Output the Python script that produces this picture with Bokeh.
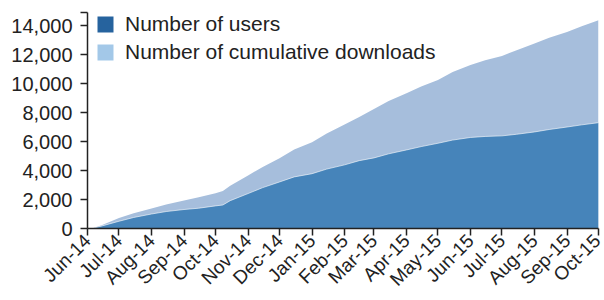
import math
import pandas as pd
from bokeh.plotting import figure
from bokeh.models import (ColumnDataSource, FixedTicker, NumeralTickFormatter,
                          DatetimeTickFormatter, Legend, LegendItem, Range1d)
from bokeh.embed import file_html
from bokeh.resources import INLINE

# ---- data ----
dates = ["2014-06-01", "2014-06-05", "2014-06-15", "2014-07-01", "2014-07-15",
         "2014-08-01", "2014-08-15", "2014-09-01", "2014-09-15", "2014-10-01",
         "2014-10-08", "2014-10-15", "2014-11-01", "2014-11-15", "2014-12-01",
         "2014-12-15", "2015-01-01", "2015-01-15", "2015-02-01", "2015-02-15",
         "2015-03-01", "2015-03-15", "2015-04-01", "2015-04-15", "2015-05-01",
         "2015-05-15", "2015-06-01", "2015-06-15", "2015-07-01", "2015-07-15",
         "2015-08-01", "2015-08-15", "2015-09-01", "2015-09-15", "2015-10-01"]
downloads = [0, 0, 250, 720, 1050,
             1380, 1650, 1930, 2150, 2430,
             2580, 2950, 3650, 4250, 4850,
             5450, 5950, 6550, 7180, 7700,
             8250, 8800, 9330, 9800, 10250,
             10800, 11280, 11600, 11900, 12300,
             12760, 13150, 13560, 13950, 14360]
users = [0, 0, 180, 500, 760,
         1000, 1170, 1310, 1400, 1560,
         1620, 1920, 2410, 2820, 3210,
         3560, 3780, 4100, 4390, 4680,
         4870, 5150, 5420, 5650, 5880,
         6100, 6280, 6350, 6390, 6500,
         6660, 6830, 7000, 7150, 7300]
tick_months = ["2014-06-01", "2014-07-01", "2014-08-01", "2014-09-01", "2014-10-01",
               "2014-11-01", "2014-12-01", "2015-01-01", "2015-02-01", "2015-03-01",
               "2015-04-01", "2015-05-01", "2015-06-01", "2015-07-01", "2015-08-01",
               "2015-09-01", "2015-10-01"]
y_ticks = [0, 2000, 4000, 6000, 8000, 10000, 12000, 14000]
y_max = 14900
series_labels = ["Number of users", "Number of cumulative downloads"]

FONT = "Liberation Sans"
TXT = "#222222"

x = pd.to_datetime(dates)
src = ColumnDataSource(dict(x=x, downloads=downloads, users=users))

p = figure(width=604, height=300, x_axis_type="datetime",
           output_backend="svg", toolbar_location=None,
           x_range=Range1d(pd.Timestamp(tick_months[0]), pd.Timestamp(tick_months[-1])),
           y_range=Range1d(0, y_max),
           min_border_left=87, min_border_right=6, min_border_top=12,
           min_border_bottom=69)
p.outline_line_color = None
p.xgrid.visible = False
p.ygrid.visible = False

p.varea(x="x", y1=0, y2="downloads", source=src, fill_color="#a6bedc")
p.varea(x="x", y1=0, y2="users", source=src, fill_color="#4684ba")
p.line(x="x", y="users", source=src, line_color="white", line_alpha=0.6, line_width=1)

# legend proxies (single degenerate point, draws nothing in the plot)
d1 = p.varea(x=x[:1], y1=[0], y2=[0], fill_color="#26639e")
d2 = p.varea(x=x[:1], y1=[0], y2=[0], fill_color="#a3c8e8")
legend = Legend(items=[LegendItem(label=series_labels[0], renderers=[d1]),
                       LegendItem(label=series_labels[1], renderers=[d2])],
                location=(8, 164), glyph_width=20, glyph_height=20,
                label_height=23, spacing=4, label_standoff=10,
                padding=0, margin=0, border_line_alpha=0,
                background_fill_alpha=0,
                label_text_font=FONT, label_text_font_size="21px",
                label_text_color=TXT)
p.add_layout(legend)

# axes
xt = [pd.Timestamp(m).value / 1e6 for m in tick_months]
p.xaxis.ticker = FixedTicker(ticks=xt)
fmt = "%b-%y"
p.xaxis.formatter = DatetimeTickFormatter(milliseconds=fmt, seconds=fmt, minsec=fmt,
                                          minutes=fmt, hourmin=fmt, hours=fmt,
                                          days=fmt, months=fmt, years=fmt)
p.xaxis.major_label_orientation = math.pi / 4
p.yaxis.ticker = FixedTicker(ticks=y_ticks, minor_ticks=[y_max])
p.yaxis.formatter = NumeralTickFormatter(format="0,0")

for ax in (p.xaxis[0], p.yaxis[0]):
    ax.axis_line_color = TXT
    ax.axis_line_width = 1.5
    ax.major_tick_line_color = TXT
    ax.major_tick_line_width = 1.5
    ax.major_tick_out = 7
    ax.major_tick_in = 0
    ax.major_label_text_font = FONT
    ax.major_label_text_color = TXT
p.yaxis.major_label_text_font_size = "20px"
p.xaxis.major_label_text_font_size = "19px"
p.xaxis.minor_tick_line_color = None
p.yaxis.minor_tick_line_color = TXT
p.yaxis.minor_tick_line_width = 1.5
p.yaxis.minor_tick_out = 7
p.yaxis.minor_tick_in = 0
p.yaxis.major_label_standoff = 8
p.xaxis.major_label_standoff = 2

open("out.html", "w").write(file_html(p, INLINE))
